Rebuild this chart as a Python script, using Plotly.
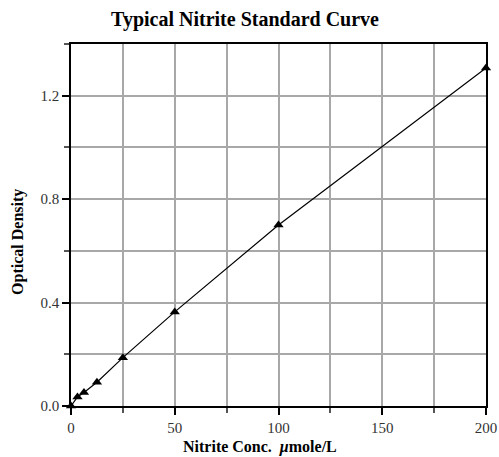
import plotly.graph_objects as go

conc = [0, 3.125, 6.25, 12.5, 25, 50, 100, 200]
od = [0.0, 0.035, 0.052, 0.092, 0.187, 0.364, 0.700, 1.307]

fig = go.Figure()
fig.add_trace(go.Scatter(
    x=conc, y=od, mode="lines+markers",
    line=dict(color="black", width=1.2),
    marker=dict(symbol="triangle-up", size=9, color="black"),
    cliponaxis=False, showlegend=False))

font = "Liberation Serif, Times New Roman, serif"
fig.update_layout(
    width=499, height=457,
    margin=dict(l=71, r=13, t=44, b=51, autoexpand=False),
    plot_bgcolor="white", paper_bgcolor="white",
    font=dict(family=font, size=14, color="#333"),
    title=dict(text="<b>Typical Nitrite Standard Curve</b>", x=0.491, xanchor="center",
               y=0.958, yanchor="middle", font=dict(family=font, size=20, color="black")),
    xaxis=dict(range=[0, 200], dtick=50, tick0=0, showgrid=True, gridcolor="#a8a8a8", gridwidth=1.5,
               showline=True, linecolor="black", linewidth=1.5, mirror=True, automargin=False,
               ticks="outside", ticklen=7, tickcolor="black", tickwidth=1.5,
               minor=dict(dtick=25, showgrid=True, gridcolor="#a8a8a8", gridwidth=1.5,
                          ticks="outside", ticklen=5, tickcolor="#555", tickwidth=1.5),
               zeroline=False, tickfont=dict(family=font, size=15, color="#333")),
    yaxis=dict(range=[0, 1.4], dtick=0.4, tick0=0, tickformat=".1f", showgrid=True,
               gridcolor="#a8a8a8", gridwidth=1.5, automargin=False,
               showline=True, linecolor="black", linewidth=1.5, mirror=True,
               ticks="outside", ticklen=7, tickcolor="black", tickwidth=1.5,
               minor=dict(dtick=0.2, showgrid=True, gridcolor="#a8a8a8", gridwidth=1.5,
                          ticks="outside", ticklen=5, tickcolor="#555", tickwidth=1.5),
               zeroline=False, tickfont=dict(family=font, size=15, color="#333")),
    annotations=[
        dict(text="<b>Nitrite Conc.  <i>μ</i>mole/L</b>", xref="paper", yref="paper", x=0.455, y=-0.113,
             xanchor="center", yanchor="middle", showarrow=False,
             font=dict(family=font, size=16, color="black")),
        dict(text="<b>Optical Density</b>", xref="paper", yref="paper", x=-0.128, y=0.453,
             xanchor="center", yanchor="middle", textangle=-90, showarrow=False,
             font=dict(family=font, size=16, color="black")),
    ],
)
fig.write_html("out.html", config={"displayModeBar": False},
               post_script="document.body.style.margin='0';document.body.style.overflow='hidden';")
